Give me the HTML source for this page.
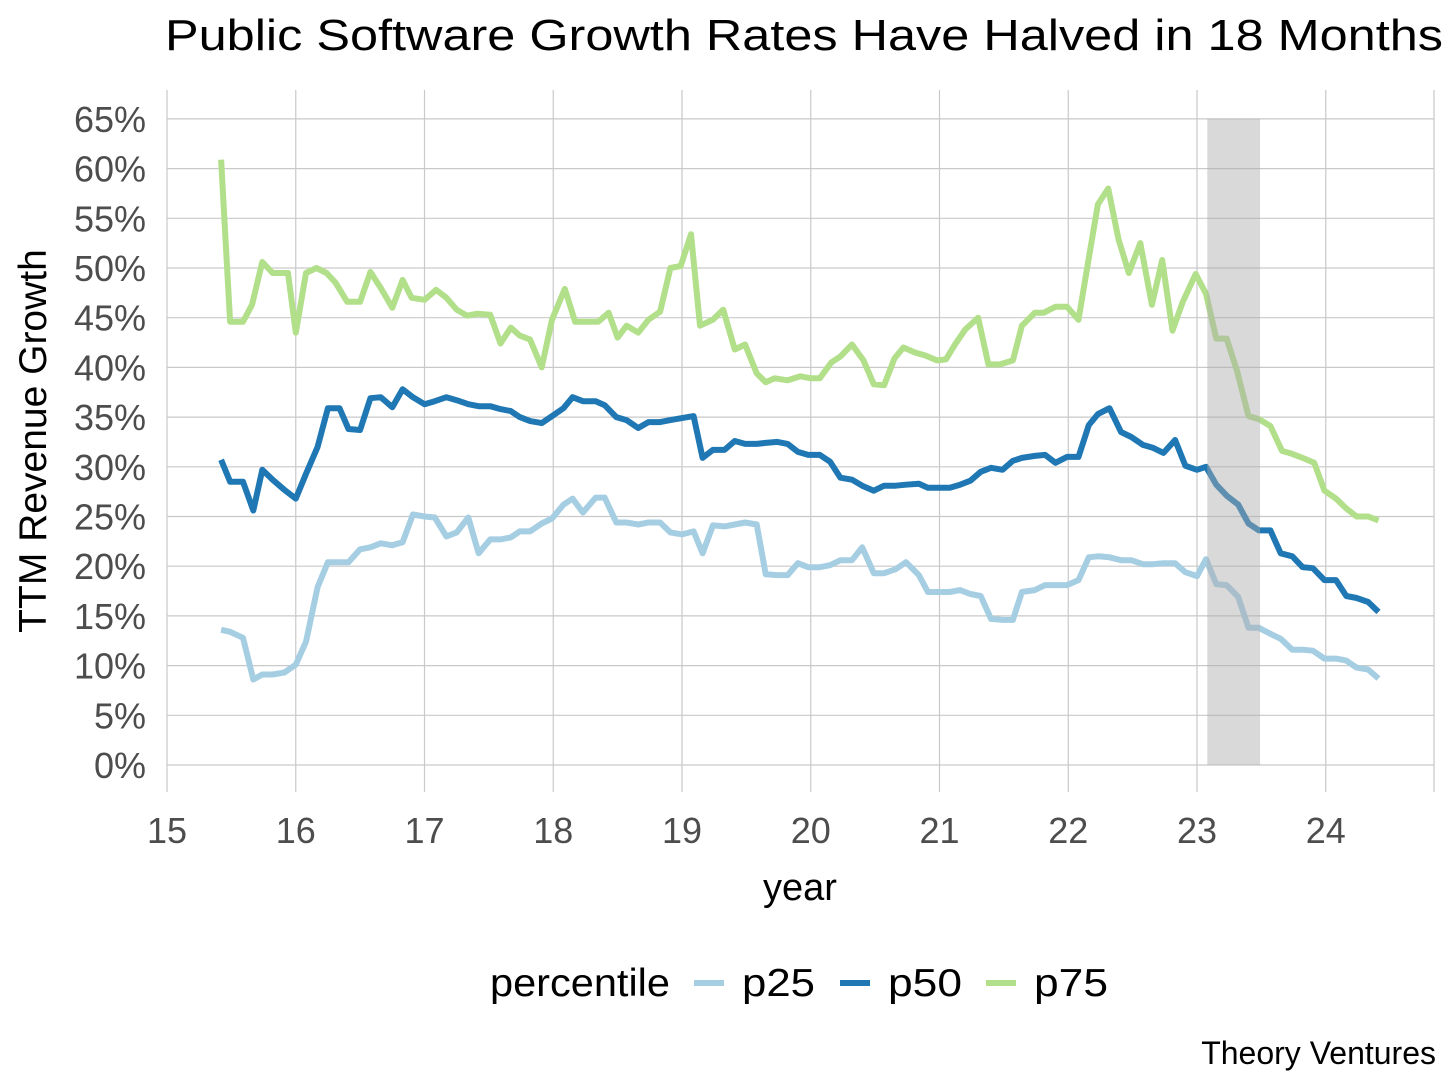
<!DOCTYPE html>
<html><head><meta charset="utf-8"><style>
html,body{margin:0;padding:0;background:#fff;}
svg{display:block;font-family:"Liberation Sans",sans-serif;}
</style></head><body>
<svg id="chart" width="1456" height="1090" viewBox="0 0 1456 1090" xmlns="http://www.w3.org/2000/svg">
<text x="165" y="50" font-size="44" fill="#000" textLength="1278" lengthAdjust="spacingAndGlyphs">Public Software Growth Rates Have Halved in 18 Months</text>
<g id="grid"></g>
<g id="lines"></g>
<g id="shade"></g>
<g id="ticks"></g>
<text transform="translate(46,441) rotate(-90)" text-anchor="middle" font-size="39" fill="#000">TTM Revenue Growth</text>
<text x="800" y="900" text-anchor="middle" font-size="38" fill="#000">year</text>
<g>
<text x="490" y="996" font-size="39" fill="#000" textLength="180" lengthAdjust="spacingAndGlyphs">percentile</text>
<line x1="694" y1="983" x2="724" y2="983" stroke="#a6cee3" stroke-width="6"/>
<text x="742" y="996" font-size="39" fill="#000" textLength="73" lengthAdjust="spacingAndGlyphs">p25</text>
<line x1="840" y1="983" x2="870" y2="983" stroke="#1f78b4" stroke-width="6"/>
<text x="888" y="996" font-size="39" fill="#000" textLength="74" lengthAdjust="spacingAndGlyphs">p50</text>
<line x1="986" y1="983" x2="1016" y2="983" stroke="#b2df8a" stroke-width="6"/>
<text x="1034" y="996" font-size="39" fill="#000" textLength="74" lengthAdjust="spacingAndGlyphs">p75</text>
</g>
<text x="1436" y="1064" text-anchor="end" font-size="32" fill="#000">Theory Ventures</text>
</svg>
<script>
const xTicks = [15,16,17,18,19,20,21,22,23,24];
const xTickLabels = ["15","16","17","18","19","20","21","22","23","24"];
const yTicks = [0,5,10,15,20,25,30,35,40,45,50,55,60,65];
const yTickLabels = ["0%","5%","10%","15%","20%","25%","30%","35%","40%","45%","50%","55%","60%","65%"];
const bandRange = [23.08, 23.49];

const p75Years = [15.42,15.49,15.59,15.66,15.74,15.82,15.86,15.94,16.00,16.08,16.16,16.24,16.31,16.40,16.50,16.58,16.66,16.75,16.83,16.90,17.00,17.09,17.17,17.25,17.33,17.41,17.51,17.59,17.67,17.74,17.82,17.91,17.99,18.09,18.17,18.29,18.35,18.43,18.50,18.57,18.66,18.74,18.83,18.91,18.99,19.07,19.14,19.24,19.32,19.41,19.49,19.58,19.65,19.72,19.82,19.92,20.00,20.07,20.16,20.23,20.32,20.41,20.49,20.57,20.65,20.72,20.81,20.89,20.98,21.05,21.12,21.20,21.30,21.38,21.47,21.57,21.64,21.74,21.81,21.90,21.99,22.08,22.16,22.23,22.31,22.39,22.47,22.56,22.65,22.73,22.81,22.89,22.99,23.07,23.15,23.23,23.31,23.40,23.48,23.57,23.66,23.74,23.82,23.91,23.99,24.08,24.16,24.24,24.33,24.41];
const p75Values = [60.9,44.6,44.6,46.3,50.6,49.5,49.5,49.5,43.5,49.5,50.0,49.5,48.5,46.6,46.6,49.6,48.0,46.0,48.8,47.0,46.8,47.8,47.0,45.8,45.2,45.4,45.3,42.4,44.0,43.2,42.8,40.0,44.8,47.9,44.6,44.6,44.6,45.5,43.0,44.2,43.5,44.8,45.6,50.0,50.2,53.4,44.2,44.8,45.8,41.8,42.3,39.4,38.5,38.9,38.7,39.1,38.9,38.9,40.5,41.1,42.3,40.7,38.3,38.2,40.9,42.0,41.5,41.2,40.7,40.8,42.3,43.8,45.0,40.3,40.3,40.7,44.2,45.5,45.5,46.1,46.1,44.8,51.0,56.4,58.0,52.9,49.5,52.5,46.3,50.8,43.7,46.6,49.4,47.4,42.9,42.9,39.7,35.1,34.8,34.1,31.6,31.3,30.9,30.4,27.6,26.8,25.8,25.0,25.0,24.6];

const p50Years = [15.42,15.49,15.59,15.67,15.74,15.82,15.91,16.00,16.08,16.17,16.25,16.34,16.41,16.50,16.58,16.66,16.75,16.83,16.91,17.00,17.08,17.17,17.25,17.34,17.42,17.51,17.59,17.67,17.74,17.82,17.91,17.99,18.08,18.15,18.23,18.33,18.40,18.49,18.57,18.66,18.74,18.83,18.91,19.00,19.09,19.16,19.24,19.33,19.41,19.49,19.58,19.65,19.74,19.82,19.90,19.98,20.07,20.15,20.23,20.32,20.40,20.49,20.57,20.66,20.74,20.84,20.91,21.01,21.08,21.16,21.24,21.32,21.40,21.49,21.57,21.64,21.74,21.82,21.90,21.99,22.08,22.16,22.23,22.32,22.41,22.49,22.58,22.66,22.74,22.83,22.91,23.00,23.07,23.15,23.23,23.32,23.40,23.48,23.57,23.65,23.74,23.82,23.90,23.99,24.08,24.16,24.24,24.33,24.41];
const p50Values = [30.7,28.5,28.5,25.6,29.7,28.7,27.7,26.8,29.3,32.0,35.9,35.9,33.8,33.7,36.9,37.0,36.0,37.8,37.0,36.3,36.6,37.0,36.7,36.3,36.1,36.1,35.8,35.6,35.0,34.6,34.4,35.1,35.9,37.0,36.6,36.6,36.2,35.0,34.7,33.9,34.5,34.5,34.7,34.9,35.1,30.9,31.7,31.7,32.6,32.3,32.3,32.4,32.5,32.3,31.5,31.2,31.2,30.5,28.9,28.7,28.1,27.6,28.1,28.1,28.2,28.3,27.9,27.9,27.9,28.2,28.6,29.5,29.9,29.7,30.6,30.9,31.1,31.2,30.4,31.0,31.0,34.2,35.3,35.9,33.5,33.0,32.2,31.9,31.4,32.7,30.1,29.7,30.0,28.2,27.1,26.2,24.3,23.6,23.6,21.3,21.0,19.9,19.8,18.6,18.6,17.0,16.8,16.4,15.4];

const p25Years = p50Years;
const p25Values = [13.6,13.4,12.8,8.6,9.1,9.1,9.3,10.1,12.4,17.9,20.4,20.4,20.4,21.7,21.9,22.3,22.1,22.4,25.2,25.0,24.9,23.0,23.4,24.9,21.3,22.7,22.7,22.9,23.5,23.5,24.3,24.8,26.2,26.8,25.4,26.9,26.9,24.4,24.4,24.2,24.4,24.4,23.4,23.2,23.5,21.3,24.1,24.0,24.2,24.4,24.2,19.2,19.1,19.1,20.3,19.9,19.9,20.1,20.6,20.6,21.9,19.3,19.3,19.7,20.4,19.1,17.4,17.4,17.4,17.6,17.2,17.0,14.7,14.6,14.6,17.4,17.6,18.1,18.1,18.1,18.6,20.9,21.0,20.9,20.6,20.6,20.2,20.2,20.3,20.3,19.4,19.0,20.7,18.2,18.1,16.9,13.8,13.8,13.2,12.7,11.6,11.6,11.5,10.7,10.7,10.5,9.8,9.6,8.7];

const X0=167, XPY=128.75, Y0=765, YPP=9.94;
const PL=167, PR=1434, PT=90, PB=792;
function xs(v){return X0+(v-15)*XPY;}
function ys(v){return Y0-v*YPP;}
const NS="http://www.w3.org/2000/svg";
function mk(tag,attrs,parent){const e=document.createElementNS(NS,tag);for(const k in attrs)e.setAttribute(k,attrs[k]);parent.appendChild(e);return e;}

const grid=document.getElementById('grid');
yTicks.forEach((t,i)=>{
  const l=mk('line',{x1:PL,x2:PR,y1:ys(t),y2:ys(t),stroke:'#c9c9c9','stroke-width':1.2},grid);
  
  
});
xTicks.forEach((t,i)=>{
  const l=mk('line',{x1:xs(t),x2:xs(t),y1:PT,y2:PB,stroke:'#c9c9c9','stroke-width':1.2},grid);
  
  
});
const rb=mk('line',{x1:PR,x2:PR,y1:PT,y2:PB,stroke:'#c9c9c9','stroke-width':1.2},grid);



const lines=document.getElementById('lines');
function drawSeries(xv,yv,color,name){
  const d=xv.map((x,i)=>(i?'L':'M')+xs(x).toFixed(1)+','+ys(yv[i]).toFixed(1)).join('');
  const p=mk('path',{d:d,fill:'none',stroke:color,'stroke-width':6,'stroke-linejoin':'round','stroke-linecap':'butt'},lines);
  
  
}
drawSeries(p25Years,p25Values,'#a6cee3','line-p25');
drawSeries(p50Years,p50Values,'#1f78b4','line-p50');
drawSeries(p75Years,p75Values,'#b2df8a','line-p75');

const shade=document.getElementById('shade');
const r=mk('rect',{x:xs(bandRange[0]),y:ys(65),width:xs(bandRange[1])-xs(bandRange[0]),height:ys(0)-ys(65),fill:'rgba(170,170,170,0.45)'},shade);



const ticks=document.getElementById('ticks');
yTicks.forEach((t,i)=>{
  const tx=mk('text',{x:146,y:ys(t)+13,'text-anchor':'end','font-size':36,fill:'#4d4d4d'},ticks);
  tx.textContent=yTickLabels[i];
  
  
});
xTicks.forEach((t,i)=>{
  const tx=mk('text',{x:xs(t),y:843,'text-anchor':'middle','font-size':36,fill:'#4d4d4d'},ticks);
  tx.textContent=xTickLabels[i];
  
  
});
</script>
</body></html>
